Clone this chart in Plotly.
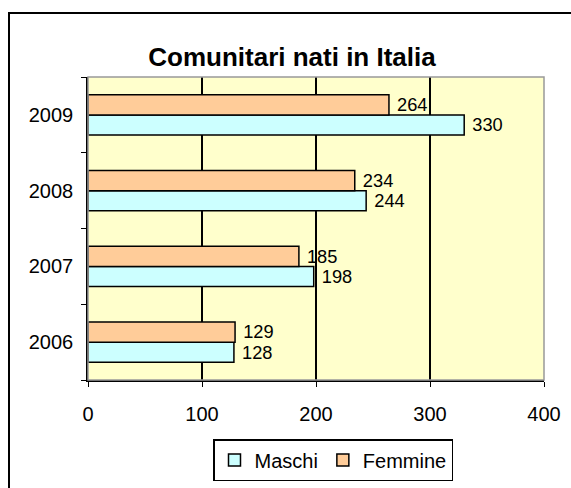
import plotly.graph_objects as go

years = ["2006", "2007", "2008", "2009"]
maschi = [128, 198, 244, 330]
femmine = [129, 185, 234, 264]
title_text = "Comunitari nati in Italia"

W, H = 571, 488
L, R, T, B = 88, 544, 77, 380
pw, ph = R - L, B - T
FONT = "Liberation Sans, Arial"
FS = 20

fig = go.Figure()
fig.add_trace(go.Bar(
    y=years, x=maschi, orientation="h", name="Maschi",
    marker=dict(color="#CCFFFF", line=dict(color="black", width=1.5)),
    texttemplate=" %{x}", textposition="outside",
    textfont=dict(family=FONT, size=FS, color="black"),
    cliponaxis=False,
))
fig.add_trace(go.Bar(
    y=years, x=femmine, orientation="h", name="Femmine",
    marker=dict(color="#FFCC99", line=dict(color="black", width=1.5)),
    texttemplate=" %{x}", textposition="outside",
    textfont=dict(family=FONT, size=FS, color="black"),
    cliponaxis=False,
))

def px_x(x):
    return (x - L) / pw

def px_y(y):
    return 1 - (y - T) / ph

shapes = [
    # outer chart frame
    dict(type="rect", xref="paper", yref="paper",
         x0=px_x(9), x1=px_x(600), y0=px_y(520), y1=px_y(13),
         line=dict(color="black", width=2), fillcolor="rgba(0,0,0,0)", layer="below"),
    # plot area border (grey)
    dict(type="rect", xref="paper", yref="paper",
         x0=0, x1=1, y0=0, y1=1,
         line=dict(color="#999999", width=1.5), fillcolor="rgba(0,0,0,0)", layer="above"),
]

fig.update_layout(
    width=W, height=H,
    margin=dict(l=L, r=W - R, t=T, b=H - B, pad=0, autoexpand=False),
    paper_bgcolor="white",
    plot_bgcolor="#FFFFCC",
    barmode="group",
    bargap=0.47,
    bargroupgap=0,
    font=dict(family=FONT, size=FS, color="black"),
    title=dict(text="<b>" + title_text + "</b>", x=292 / W, xanchor="center",
               y=1 - 57 / H, yanchor="middle", yref="container",
               font=dict(family=FONT, size=26, color="black")),
    showlegend=True,
    legend=dict(orientation="h", x=px_x(333), xanchor="center",
                y=px_y(460), yanchor="middle",
                bordercolor="black", borderwidth=1.5, bgcolor="white",
                font=dict(family=FONT, size=FS),
                itemwidth=30, traceorder="normal", itemclick=False,
                tracegroupgap=0),
    shapes=shapes,
    xaxis=dict(range=[0, 400], tickvals=[0, 100, 200, 300, 400],
               showgrid=True, gridcolor="black", gridwidth=1.5,
               showline=True, linecolor="black", linewidth=1.5,
               ticks="outside", ticklen=5, tickcolor="black",
               ticklabelstandoff=10, zeroline=False,
               tickfont=dict(size=FS), automargin=False),
    yaxis=dict(type="category", categoryorder="array", categoryarray=years,
               showgrid=False, showline=True, linecolor="black", linewidth=1.5,
               ticks="outside", ticklen=5, tickcolor="black", tickson="boundaries",
               ticklabelstandoff=9, tickfont=dict(size=FS), automargin=False),
)

fig.write_html("out.html", config={"displayModeBar": False},
               post_script="document.body.style.margin='0px';")
